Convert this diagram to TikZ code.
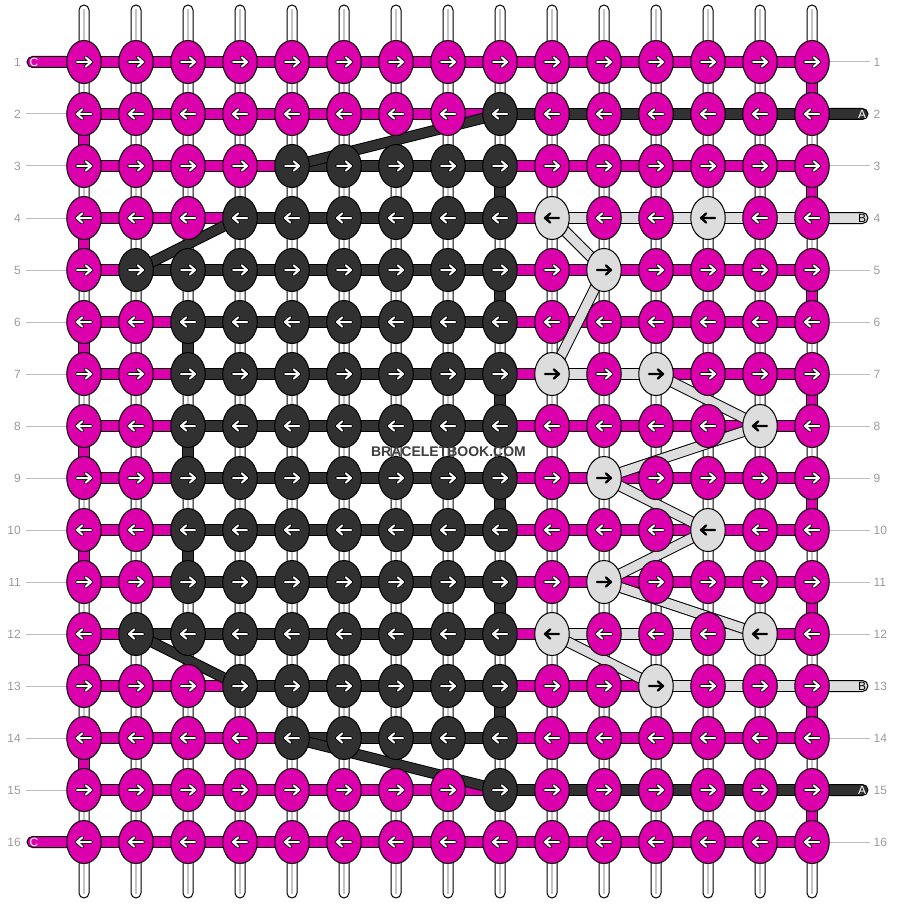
\documentclass[tikz,border=0pt]{standalone}
\usepackage{fontspec}
\setmainfont{Liberation Sans}
\usetikzlibrary{shapes.geometric}
\definecolor{mg}{HTML}{DC00AC}
\definecolor{dk}{HTML}{313131}
\definecolor{lt}{HTML}{DDDDDD}
\definecolor{lbl}{HTML}{9A9A9A}
\definecolor{gline}{HTML}{BDBDBD}
\definecolor{core}{HTML}{C4C4C4}
\definecolor{wm}{HTML}{3E3E3E}
\tikzset{
  knot/.style={ellipse, draw=black, line width=1pt, minimum width=34.5pt, minimum height=43pt, inner sep=0pt},
  seg/.style={draw=black, line width=1pt},
  rowlabel/.style={text=lbl, font=\fontsize{12}{12}\selectfont, inner sep=0pt},
  tablabel/.style={font=\fontsize{12}{12}\selectfont, inner sep=0pt},
  arrowout/.style={black, line width=3.8pt, line cap=round, line join=round},
  arrowin/.style={white, line width=2pt, line cap=round, line join=round},
  arrowdark/.style={black, line width=2.3pt, line cap=round, line join=round},
}
\def\rowdata{1/R/0/-1/0/0/0/-1/0/-1,2/L/9/9/0/0/9/14/0/-1,3/R/5/9/0/0/5/8/0/-1,4/L/4/9/10/13/4/8/10/14,5/R/2/9/11/0/2/8/0/-1,6/L/3/9/0/0/3/8/0/-1,7/R/3/9/10/12/3/8/10/11,8/L/3/9/14/0/3/8/0/-1,9/R/3/9/11/0/3/8/0/-1,10/L/3/9/13/0/3/8/0/-1,11/R/3/9/11/0/3/8/0/-1,12/L/2/9/10/14/2/8/10/13,13/R/4/9/12/0/4/8/12/14,14/L/5/9/0/0/5/8/0/-1,15/R/9/9/0/0/9/14/0/-1,16/L/0/-1/0/0/0/-1/0/-1}
\begin{document}
\begin{tikzpicture}[x=1pt,y=-1pt]
\useasboundingbox (0,0) rectangle (896,904);
% grid coordinates
\foreach \r in {1,...,16}{
  \foreach \c in {1,...,15}{
    \coordinate (p\r-\c) at ({84+52*(\c-1)},{62+52*(\r-1)});
  }
}
% vertical base strings
\foreach \c in {1,...,15}{
  \pgfmathsetmacro\xx{84+52*(\c-1)}
  \draw[fill=white, line width=1pt, rounded corners=5pt] (\xx-5,5) rectangle (\xx+5,898);
  \draw[core, line width=1.2pt] (\xx,9) -- (\xx,894);
}
% label lines
\foreach \r in {2,...,15}{
  \pgfmathsetmacro\yy{62+52*(\r-1)}
  \draw[gline, line width=1pt] (26,\yy) -- (80,\yy);
}
\foreach \r in {1,3,5,6,7,8,9,10,11,12,14,16}{
  \pgfmathsetmacro\yy{62+52*(\r-1)}
  \draw[gline, line width=1pt] (815,\yy) -- (870,\yy);
}
% row segments
\foreach \r/\dir/\dlo/\dhi/\la/\lb/\sdlo/\sdhi/\sllo/\slhi in \rowdata{
  \pgfmathsetmacro\yy{62+52*(\r-1)}
  \draw[seg, fill=mg] (84,\yy-5.5) rectangle (812,\yy+5.5);
  \ifnum\sdhi<\sdlo\relax\else
    \draw[seg, fill=dk] ({84+52*(\sdlo-1)},\yy-5.5) rectangle ({84+52*\sdhi},\yy+5.5);
  \fi
  \ifnum\slhi<\sllo\relax\else
    \draw[seg, fill=lt] ({84+52*(\sllo-1)},\yy-5.5) rectangle ({84+52*\slhi},\yy+5.5);
  \fi
}
% end tabs
\draw[seg, fill=mg, rounded corners=5.5pt] (27,56.5) rectangle (95,67.5);
\draw[seg, fill=mg, rounded corners=5.5pt] (27,836.5) rectangle (95,847.5);
\draw[seg, fill=dk, rounded corners=5.5pt] (800,108.5) rectangle (868,119.5);
\draw[seg, fill=dk, rounded corners=5.5pt] (800,784.5) rectangle (868,795.5);
\draw[seg, fill=lt, rounded corners=5.5pt] (800,212.5) rectangle (868,223.5);
\draw[seg, fill=lt, rounded corners=5.5pt] (800,680.5) rectangle (868,691.5);
% turning segments
\foreach \r in {1,3,...,15}{
  \pgfmathsetmacro\yy{62+52*(\r-1)}
  \draw[seg, fill=mg] (806.5,\yy) rectangle (817.5,\yy+52);
}
\foreach \r in {2,4,...,14}{
  \pgfmathsetmacro\yy{62+52*(\r-1)}
  \draw[seg, fill=mg] (78.5,\yy) rectangle (89.5,\yy+52);
}
\foreach \r in {3,5,...,13}{
  \pgfmathsetmacro\yy{62+52*(\r-1)}
  \draw[seg, fill=dk] (494.5,\yy) rectangle (505.5,\yy+52);
}
\foreach \r in {6,8,10}{
  \pgfmathsetmacro\yy{62+52*(\r-1)}
  \draw[seg, fill=dk] (182.5,\yy) rectangle (193.5,\yy+52);
}
% diagonal carries
\foreach \a/\b/\cl in {2-9/3-5/dk,4-4/5-2/dk,12-2/13-4/dk,14-5/15-9/dk,4-10/5-11/lt,5-11/7-10/lt,7-12/8-14/lt,8-14/9-11/lt,9-11/10-13/lt,10-13/11-11/lt,11-11/12-14/lt,12-10/13-12/lt}{
  \draw[black, line width=11pt] (p\a) -- (p\b);
  \draw[\cl, line width=9pt] (p\a) -- (p\b);
}
% knots
\foreach \r/\dir/\dlo/\dhi/\la/\lb/\sdlo/\sdhi/\sllo/\slhi in \rowdata{
  \foreach \c in {1,...,15}{
    \def\kc{mg}\def\ak{0}
    \ifnum\c<\dlo\relax\else\ifnum\c>\dhi\relax\else\def\kc{dk}\fi\fi
    \ifnum\c=\la\relax\def\kc{lt}\def\ak{1}\fi
    \ifnum\c=\lb\relax\def\kc{lt}\def\ak{1}\fi
    \if R\dir\def\sg{1}\else\def\sg{-1}\fi
    \node[knot, fill=\kc] (n\r-\c) at (p\r-\c) {};
    \ifnum\ak=0\relax
      \draw[arrowout, shift={(n\r-\c.center)}, xscale=\sg] (-7,0) -- (7,0) (1.8,-4.6) -- (7,0) -- (1.8,4.6);
      \draw[arrowin, shift={(n\r-\c.center)}, xscale=\sg] (-7,0) -- (7,0) (1.8,-4.6) -- (7,0) -- (1.8,4.6);
    \else
      \draw[arrowdark, shift={(n\r-\c.center)}, xscale=\sg] (-7,0) -- (7,0) (1.8,-4.6) -- (7,0) -- (1.8,4.6);
    \fi
  }
}
% tab letters
\node[tablabel, text=white] (tc1) at (34,62) {C};
\node[tablabel, text=white] (tc16) at (34,842) {C};
\node[tablabel, text=white] (ta2) at (862,114) {A};
\node[tablabel, text=white] (ta15) at (862,790) {A};
\node[tablabel, text=black] (tb4) at (862,218) {B};
\node[tablabel, text=black] (tb13) at (862,686) {B};
% row numbers
\foreach \r in {1,...,16}{
  \pgfmathsetmacro\yy{62+52*(\r-1)}
  \node[rowlabel, anchor=east] (ll\r) at (21,\yy) {\r};
  \node[rowlabel, anchor=west] (rl\r) at (873.5,\yy) {\r};
}
% watermark
\node[font=\bfseries\fontsize{14}{14}\selectfont, text=wm, inner sep=0pt] (wmark) at (448.5,452) {BRACELETBOOK.COM};
\end{tikzpicture}
\end{document}
